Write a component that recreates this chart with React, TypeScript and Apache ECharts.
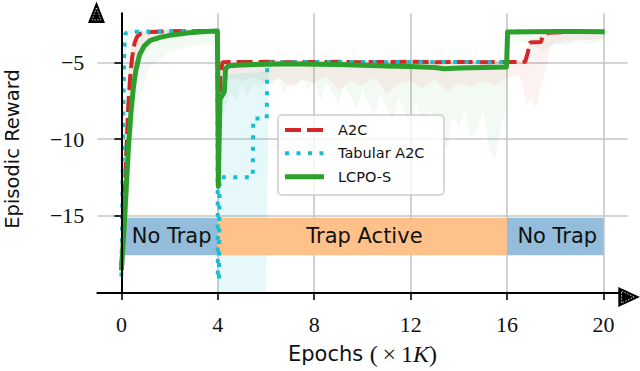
import React, { useEffect, useRef } from "react";
import * as echarts from "echarts";

// ---------- tick values ----------
const xTicks = [0, 4, 8, 12, 16, 20];
const yTicks = [-15, -10, -5];

// ---------- main curves ----------
const a2cX = [0, 0.05, 0.12, 0.2, 0.28, 0.36, 0.45, 0.55, 0.65, 0.8, 1.2, 2, 3, 3.98, 4.0, 4.03, 4.1, 4.2, 5, 6, 7, 8, 9, 10, 11, 12, 13, 14, 15, 16, 16.6, 16.75, 16.85, 16.95, 17.4, 17.5, 17.7, 18.5, 20];
const a2cY = [-18.3, -17.0, -14.5, -11.0, -8.0, -6.0, -4.6, -3.7, -3.3, -3.1, -3.0, -2.95, -2.93, -2.93, -8.0, -12.0, -5.8, -4.97, -4.96, -4.95, -4.97, -4.96, -4.95, -4.97, -4.96, -4.95, -4.97, -4.96, -4.97, -4.96, -4.97, -4.95, -4.4, -3.68, -3.65, -3.2, -3.05, -3.0, -3.0];

const tabX = [0, 0.04, 0.08, 0.12, 0.16, 0.3, 1, 2, 3, 3.98, 4.0, 4.05, 4.07, 5.45, 5.47, 6.03, 6.05, 7, 8, 9, 10, 11, 12, 13, 14, 15, 15.98, 16.02, 17, 18, 19, 20];
const tabY = [-19.0, -14.0, -8.0, -4.0, -3.1, -3.0, -2.96, -2.95, -2.94, -2.93, -19.2, -19.2, -12.5, -12.5, -8.65, -8.65, -5.0, -4.97, -4.96, -4.97, -4.96, -4.97, -4.96, -4.97, -4.96, -4.97, -4.97, -2.97, -2.97, -2.96, -2.97, -2.97];

const lcpoX = [0, 0.1, 0.2, 0.3, 0.4, 0.5, 0.6, 0.75, 0.95, 1.2, 1.6, 2, 2.8, 3.5, 3.98, 4.0, 4.02, 4.06, 4.09, 4.2, 4.27, 4.32, 4.45, 5, 6, 7, 8, 9, 10, 11, 12, 13, 13.4, 14, 15, 15.98, 16.02, 17, 18, 19, 20.05];
const lcpoY = [-18.6, -16.2, -13.2, -10.3, -8.2, -6.6, -5.5, -4.5, -3.9, -3.55, -3.35, -3.22, -3.05, -2.97, -2.94, -6.0, -13.1, -9.5, -7.4, -7.1, -6.9, -5.4, -5.2, -5.15, -5.1, -5.08, -5.1, -5.12, -5.18, -5.22, -5.26, -5.32, -5.4, -5.36, -5.32, -5.28, -3.0, -2.98, -2.97, -2.97, -2.98];

// ---------- shaded spread bands ----------
const lcpoBandX = [0, 0.1, 0.2, 0.3, 0.5, 0.8, 1.2, 2, 3, 3.98, 4.0, 4.05, 4.1, 4.3, 4.5, 4.75, 5, 5.25, 5.5, 5.75, 6, 6.25, 6.5, 6.75, 7, 7.25, 7.5, 7.75, 8, 8.25, 8.5, 8.75, 9, 9.25, 9.5, 9.75, 10, 10.25, 10.5, 10.75, 11, 11.25, 11.5, 11.75, 12, 12.25, 12.5, 12.75, 13, 13.25, 13.5, 13.75, 14, 14.25, 14.5, 14.75, 15, 15.25, 15.5, 15.75, 15.98, 16.02, 16.5, 17, 17.5, 18, 18.5, 19, 19.5, 20.05];
const lcpoBandHi = [-18.0, -10.0, -5.5, -4.0, -3.4, -3.1, -2.95, -2.85, -2.8, -2.8, -2.8, -4.9, -4.9, -4.9, -4.9, -4.9, -4.9, -4.9, -4.9, -4.9, -4.9, -4.9, -4.9, -4.9, -4.9, -4.9, -4.9, -4.9, -4.9, -4.9, -4.9, -4.9, -4.9, -4.9, -4.9, -4.9, -4.9, -4.9, -4.9, -4.9, -4.9, -4.9, -4.9, -4.9, -4.9, -4.9, -4.9, -4.9, -4.9, -4.9, -4.9, -4.9, -4.9, -4.9, -4.9, -4.9, -4.9, -4.9, -4.9, -4.9, -4.9, -2.85, -2.85, -2.85, -2.85, -2.85, -2.85, -2.85, -2.85, -2.85];
const lcpoBandLo = [-19.3, -18.5, -16.5, -14.0, -10.0, -7.0, -5.2, -4.3, -3.9, -3.7, -13.5, -13.5, -10.0, -8.0, -7.0, -7.5, -6.5, -7.2, -6.3, -6.8, -6.2, -6.5, -6.0, -7.0, -6.2, -6.6, -6.1, -6.8, -6.3, -7.5, -6.4, -6.9, -7.8, -6.5, -7.2, -8.0, -6.8, -7.6, -8.5, -7.0, -7.9, -8.8, -7.2, -8.2, -9.0, -7.5, -9.5, -8.0, -8.8, -10.0, -10.8, -8.5, -9.2, -8.0, -9.8, -9.5, -8.2, -10.5, -11.5, -9.0, -8.0, -3.5, -3.6, -3.8, -4.2, -3.7, -3.9, -3.6, -3.8, -3.5];

const a2cBandX = [0, 0.1, 0.2, 0.3, 0.45, 0.65, 1.0, 2, 3.98, 4.0, 4.1, 4.2, 4.5, 5, 5.5, 6, 6.5, 7, 7.5, 8, 8.5, 9, 9.5, 10, 10.5, 11, 11.5, 12, 12.5, 13, 13.5, 14, 14.5, 15, 15.5, 16, 16.5, 16.6, 16.8, 17.0, 17.2, 17.4, 17.6, 17.8, 18, 18.5, 19, 19.5, 20];
const a2cBandHi = [-17.5, -14.0, -9.0, -5.5, -3.8, -3.1, -2.95, -2.9, -2.88, -2.88, -4.85, -4.85, -4.85, -4.85, -4.85, -4.85, -4.85, -4.85, -4.85, -4.85, -4.85, -4.85, -4.85, -4.85, -4.85, -4.85, -4.85, -4.85, -4.85, -4.85, -4.85, -4.85, -4.85, -4.85, -4.85, -4.85, -4.85, -4.85, -4.2, -3.5, -3.4, -3.2, -2.95, -2.9, -2.9, -2.9, -2.9, -2.9, -2.9];
const a2cBandLo = [-19.0, -18.5, -17.0, -14.0, -9.0, -5.5, -3.6, -3.1, -3.0, -12.5, -8.0, -6.5, -6.0, -6.2, -5.9, -6.4, -6.0, -6.6, -6.1, -6.3, -5.9, -6.8, -6.2, -6.5, -6.0, -7.0, -6.4, -6.2, -6.7, -6.1, -6.9, -6.3, -6.6, -6.2, -6.5, -6.0, -5.8, -6.2, -7.8, -7.2, -8.0, -6.5, -5.5, -4.0, -3.8, -3.6, -3.5, -3.5, -3.4];

const tabBandX = [0, 0.05, 0.1, 0.15, 0.3, 3.98, 4.0, 4.05, 4.1, 5.0, 6.0, 6.12, 6.2, 16.0, 16.05, 20];
const tabBandHi = [-18.5, -9.0, -3.5, -2.9, -2.85, -2.85, -2.85, -5.8, -5.8, -5.7, -5.6, -4.9, -4.9, -4.9, -2.9, -2.9];
const tabBandLo = [-19.5, -19.0, -12.0, -5.0, -3.1, -3.0, -20.07, -20.07, -20.07, -20.07, -20.07, -5.1, -5.05, -5.05, -3.05, -3.05];

// ---------- phase annotations ----------
const phaseNames = ["No Trap", "Trap Active", "No Trap"];
const phaseStart = [0, 4, 16];
const phaseEnd = [4, 16, 20];

const seriesNames = ["A2C", "Tabular A2C", "LCPO-S"];

// layout constants
const X_MIN = -1;
const X_MAX = 21;
const Y_MIN = -20.077;
const Y_MAX = -1.774;
const BOX_TOP = -15.15;
const BOX_BOTTOM = -17.6;

const SANS = "DejaVu Sans";
const SERIF = "Liberation Serif";

const pairs = (xs: number[], ys: number[]) => xs.map((x, i) => [x, ys[i]]);

function bandSeries(xs: number[], lo: number[], hi: number[], fill: string, z: number) {
  return {
    type: "custom",
    silent: true,
    z,
    clip: true,
    data: [[xs[0], hi[0]]],
    encode: { x: 0, y: 1 },
    renderItem: (_params: any, api: any) => {
      const pts: number[][] = [];
      for (let i = 0; i < xs.length; i++) pts.push(api.coord([xs[i], Math.max(hi[i], Y_MIN)]));
      for (let i = xs.length - 1; i >= 0; i--) pts.push(api.coord([xs[i], Math.max(lo[i], Y_MIN)]));
      return { type: "polygon", shape: { points: pts }, style: { fill } };
    },
  };
}

const minus = (v: number) => (v < 0 ? "\u2212" + Math.abs(v) : String(v));

export default function App() {
  const ref = useRef<HTMLDivElement>(null);
  useEffect(() => {
    document.body.style.margin = "0";
    const chart = echarts.init(ref.current!, undefined, { renderer: "svg" });
    const phaseColors = ["#8fbbd9", "#ffbf86", "#8fbbd9"];
    const lineColors = ["#d62728", "#17becf", "#2ca02c"];

    const legendTop = 115;
    const legendLeft = 278;
    const rowY = [130, 153.3, 176.7];
    const legendDash: any[] = [[16, 6], [4, 7.5], null];
    const legendWidth = [4, 4, 5];

    const legendEls: any[] = [
      {
        type: "rect",
        shape: { x: legendLeft, y: legendTop, width: 166, height: 80, r: 4 },
        style: { fill: "rgba(255,255,255,0.8)", stroke: "#cccccc", lineWidth: 1.5 },
        z: 20,
      },
    ];
    seriesNames.forEach((n, i) => {
      legendEls.push({
        type: "line",
        shape: { x1: 285, y1: rowY[i], x2: 324, y2: rowY[i] },
        style: { stroke: lineColors[i], lineWidth: legendWidth[i], lineDash: legendDash[i], lineCap: "butt" },
        z: 21,
      });
      legendEls.push({
        type: "text",
        x: 338,
        y: rowY[i],
        style: { text: n, font: `14.5px "${SANS}"`, fill: "#111", textAlign: "left", textVerticalAlign: "middle" },
        z: 21,
      });
    });

    const option: any = {
      animation: false,
      grid: { left: 97.3, right: 12.4, top: 13.3, bottom: 74, containLabel: false },
      xAxis: {
        type: "value",
        min: X_MIN,
        max: X_MAX,
        z: 10,
        axisLine: { show: true, lineStyle: { color: "#000", width: 2 } },
        axisTick: { show: true, length: 7, customValues: xTicks, lineStyle: { color: "#000", width: 1.6 } },
        axisLabel: {
          show: true,
          customValues: xTicks,
          margin: 20,
          fontFamily: SERIF,
          fontSize: 22,
          color: "#111",
          formatter: (v: number) => minus(v),
        },
        splitLine: { show: false },
        name: "{a|Epochs }{b|(\u2009×\u20091}{c|K}{b|)}",
        nameLocation: "middle",
        nameGap: 49,
        nameTextStyle: {
          rich: {
            a: { fontFamily: SANS, fontSize: 21, color: "#111" },
            b: { fontFamily: SERIF, fontSize: 24, color: "#111" },
            c: { fontFamily: SERIF, fontSize: 24, fontStyle: "italic", color: "#111" },
          },
        },
      },
      yAxis: {
        type: "value",
        min: Y_MIN,
        max: Y_MAX,
        z: 10,
        axisLine: { show: true, lineStyle: { color: "#000", width: 2 } },
        axisTick: { show: true, length: 7, customValues: yTicks, lineStyle: { color: "#000", width: 1.6 } },
        axisLabel: {
          show: true,
          customValues: yTicks,
          margin: 13,
          fontFamily: SERIF,
          fontSize: 22,
          color: "#111",
          formatter: (v: number) => minus(v),
        },
        splitLine: { show: false },
      },
      graphic: [
        {
          type: "text",
          x: 12,
          y: 149,
          rotation: Math.PI / 2,
          style: {
            text: "Episodic Reward",
            font: `19.5px "${SANS}"`,
            fill: "#111",
            textAlign: "center",
            textVerticalAlign: "middle",
          },
        },
        {
          type: "polygon",
          shape: { points: [[96.5, 1.5], [88, 23], [105, 23]] },
          style: { fill: "#000" },
          z: 30,
        },
        {
          type: "polygon",
          shape: { points: [[96.5, 8], [92, 20], [101, 20]] },
          style: { fill: "none", stroke: "#fff", lineWidth: 0.8, lineDash: [1.5, 1.5] },
          z: 31,
        },
        {
          type: "polygon",
          shape: { points: [[640, 297], [618.3, 287], [618.3, 307]] },
          style: { fill: "#000" },
          z: 30,
        },
        {
          type: "polygon",
          shape: { points: [[634, 297], [621.5, 291], [621.5, 303]] },
          style: { fill: "none", stroke: "#fff", lineWidth: 0.8, lineDash: [1.5, 1.5] },
          z: 31,
        },
        ...legendEls,
      ],
      series: [
        {
          type: "line",
          name: "grid",
          data: [],
          silent: true,
          z: 0,
          symbol: "none",
          lineStyle: { width: 0 },
          markLine: {
            silent: true,
            z: 0,
            symbol: ["none", "none"],
            label: { show: false },
            lineStyle: { color: "#c6c6c6", width: 1.6, type: "solid" },
            data: [...xTicks.map((v) => ({ xAxis: v })), ...yTicks.map((v) => ({ yAxis: v }))],
          },
        },
        bandSeries(tabBandX, tabBandLo, tabBandHi, "rgba(23,190,207,0.11)", 1),
        bandSeries(a2cBandX, a2cBandLo, a2cBandHi, "rgba(214,39,40,0.06)", 1),
        bandSeries(lcpoBandX, lcpoBandLo, lcpoBandHi, "rgba(44,160,44,0.06)", 1),
        {
          type: "line",
          name: "phases",
          data: [],
          silent: true,
          z: 2,
          symbol: "none",
          lineStyle: { width: 0 },
          markArea: {
            silent: true,
            z: 2,
            label: {
              show: true,
              position: "inside",
              fontFamily: SANS,
              fontSize: 21,
              color: "#111",
              offset: [2, 0],
            },
            data: phaseNames.map((n, i) => [
              { name: n, xAxis: phaseStart[i], yAxis: BOX_TOP, itemStyle: { color: phaseColors[i], opacity: 0.97 } },
              { xAxis: phaseEnd[i], yAxis: BOX_BOTTOM },
            ]),
          },
        },
        {
          type: "line",
          name: seriesNames[0],
          data: pairs(a2cX, a2cY),
          symbol: "none",
          showSymbol: false,
          clip: true,
          z: 3,
          lineStyle: { color: lineColors[0], width: 4, type: [16, 6], cap: "butt" },
        },
        {
          type: "line",
          name: seriesNames[1],
          data: pairs(tabX, tabY),
          symbol: "none",
          showSymbol: false,
          clip: true,
          z: 4,
          lineStyle: { color: lineColors[1], width: 4, type: [4, 7.5], cap: "butt" },
        },
        {
          type: "line",
          name: seriesNames[2],
          data: pairs(lcpoX, lcpoY),
          symbol: "none",
          showSymbol: false,
          clip: true,
          z: 5,
          lineStyle: { color: lineColors[2], width: 5, type: "solid", join: "round" },
        },
      ],
    };
    chart.setOption(option);
    return () => chart.dispose();
  }, []);
  return <div ref={ref} style={{ width: 640, height: 371 }} />;
}
